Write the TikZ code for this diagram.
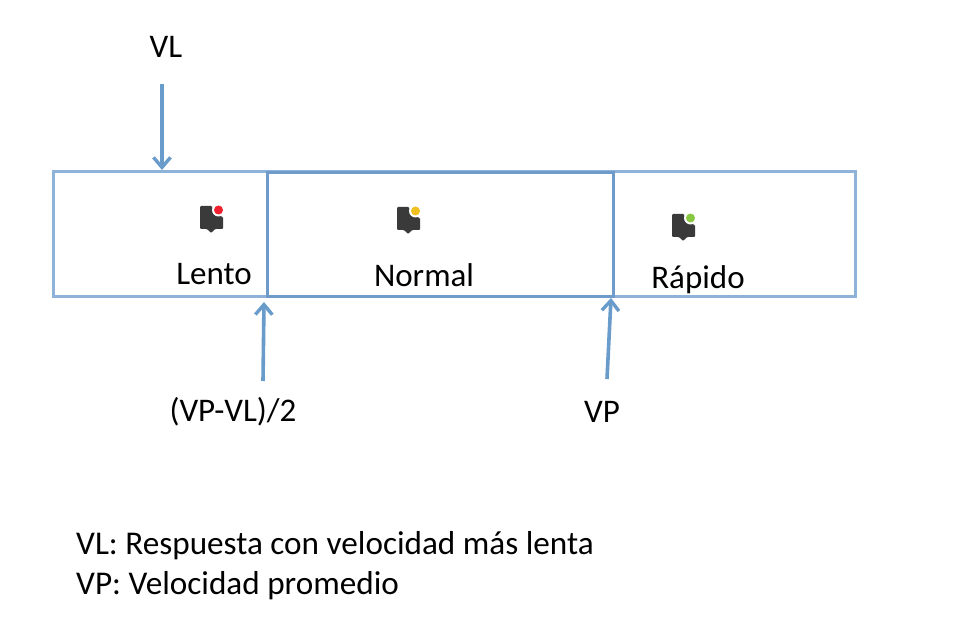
\documentclass[tikz,border=0pt]{standalone}
\usepackage{fontspec}
\setmainfont{Carlito}
\usetikzlibrary{arrows.meta}
\definecolor{lineblue}{HTML}{8FB2D8}
\definecolor{midblue}{HTML}{6F9BCB}
\definecolor{arrowblue}{HTML}{699BCB}
\definecolor{icondark}{HTML}{3A3A3A}
\definecolor{dotred}{HTML}{F02030}
\definecolor{dotyellow}{HTML}{F0C020}
\definecolor{dotgreen}{HTML}{88C840}
\tikzset{
  x=1pt,y=-1pt,
  outerbox/.style={draw=lineblue,line width=3pt,minimum width=802pt,minimum height=125pt,inner sep=0pt,anchor=north west},
  midbox/.style={draw=midblue,line width=3pt,minimum width=346pt,minimum height=124pt,inner sep=0pt,anchor=north west},
  pointer/.style={draw=arrowblue,line width=3.6pt,-{Straight Barb[length=10pt,width=17pt,line width=3.4pt]}},
  lab/.style={font=\fontsize{33}{38}\selectfont,text=black,inner sep=0pt},
  legend/.style={font=\fontsize{33.2}{40}\selectfont,text=black,inner sep=0pt,align=left,anchor=north west},
  pics/sticon/.style={code={
    \fill[icondark,rounded corners=1pt] (-11,-11) -- (1,-11) -- (3,-3) -- (12,0) -- (12,12) -- (4,12) -- (0,16) -- (-4,12) -- (-11,12) -- cycle;
    \fill[white] (7.5,-7) circle (6.5pt);
    \fill[#1] (7.5,-7) circle (4.5pt);
  }}
}
\begin{document}
\begin{tikzpicture}
\useasboundingbox[fill=white] (0,0) rectangle (974,636);
\node[outerbox] (outer) at (51.5,170) {};
\node[midbox] (middle) at (265.5,171) {};
\coordinate (vlstart) at (162,84);
\coordinate (vlend) at (162,170);
\coordinate (halfstart) at (263,381);
\coordinate (halfend) at (264,302);
\coordinate (vpstart) at (607,379);
\coordinate (vpend) at (611,298);
\draw[pointer] (vlstart) -- (vlend);
\draw[pointer] (halfstart) -- (halfend);
\draw[pointer] (vpstart) -- (vpend);
\pic at (211,217) {sticon=dotred};
\pic at (408,218) {sticon=dotyellow};
\pic at (683,225) {sticon=dotgreen};
\node[lab] (vl) at (166,47) {VL};
\node[lab] (lento) at (214,274) {Lento};
\node[lab] (normal) at (424,275) {Normal};
\node[lab] (rapido) at (698,280) {Rápido};
\node[lab] (half) at (233,412) {(VP-VL)/2};
\node[lab] (vp) at (602,412) {VP};
\node[legend] (key) at (76,531) {VL: Respuesta con velocidad más lenta\\VP: Velocidad promedio};
\end{tikzpicture}
\end{document}
